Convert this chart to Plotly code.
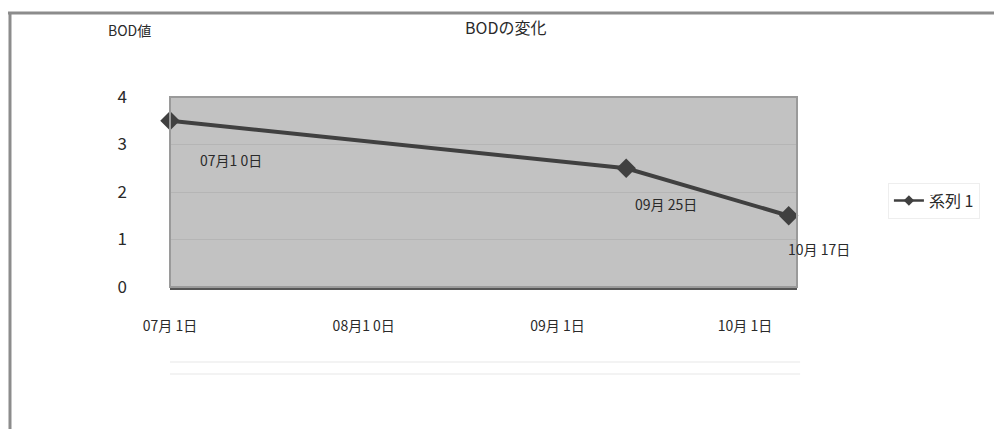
import plotly.graph_objects as go

# BOD measurements over the season
dates = ["2023-07-01", "2023-09-12", "2023-10-08"]
bod_values = [3.5, 2.5, 1.5]
point_labels = ["07月1 0日", "09月 25日", "10月 17日"]
label_shift_x = [61, 40, 30]
label_shift_y = [-39, -36, -33]

tick_dates = ["2023-07-01", "2023-08-01", "2023-09-01", "2023-10-01"]
tick_text = ["07月 1日", "08月1 0日", "09月 1日", "10月 1日"]
y_ticks = [0, 1, 2, 3, 4]

FONT = "Noto Sans CJK JP, Noto Sans, sans-serif"
TEXT_COLOR = "#2a2a2a"
LINE_COLOR = "#404040"

fig = go.Figure()
fig.add_trace(go.Scatter(
    x=dates, y=bod_values, mode="lines+markers", name="系列 1", showlegend=False,
    line=dict(color=LINE_COLOR, width=4),
    marker=dict(symbol="diamond", size=15, color=LINE_COLOR),
    cliponaxis=False,
))
# legend entry with a slimmer line and smaller diamond
fig.add_trace(go.Scatter(
    x=[None], y=[None], mode="lines+markers", name="系列 1",
    line=dict(color=LINE_COLOR, width=2.5),
    marker=dict(symbol="diamond", size=8, color=LINE_COLOR),
))

for d, v, t, dx, dy in zip(dates, bod_values, point_labels, label_shift_x, label_shift_y):
    fig.add_annotation(x=d, y=v, text=t, showarrow=False, xshift=dx, yshift=dy,
                       font=dict(size=14, color=TEXT_COLOR, family=FONT))

# outer chart frame (top and left edges)
frame = dict(type="line", xref="paper", yref="paper", line=dict(color="#8c8c8c", width=3), layer="above")
fig.add_shape(x0=-0.2584, x1=1.32, y0=1.442, y1=1.442, **frame)
fig.add_shape(x0=-0.2552, x1=-0.2552, y0=1.442, y1=-0.76, **frame)
# plot area border
fig.add_shape(type="rect", xref="paper", yref="paper", x0=0, x1=1, y0=0, y1=1,
              line=dict(color="#9a9a9a", width=2), layer="above")
# faint lines below the axis labels
for yy in [-0.395, -0.458]:
    fig.add_shape(type="line", xref="paper", yref="paper", x0=0, x1=1.005, y0=yy, y1=yy,
                  line=dict(color="#f3f3f3", width=2))

fig.add_annotation(text="BODの変化", xref="paper", yref="paper", x=0.535, y=1.37,
                   xanchor="center", yanchor="middle",
                   showarrow=False, font=dict(size=16, color=TEXT_COLOR, family=FONT))
fig.add_annotation(text="BOD値", xref="paper", yref="paper", x=-0.064, y=1.353,
                   xanchor="center", yanchor="middle",
                   showarrow=False, font=dict(size=14, color=TEXT_COLOR, family=FONT))

fig.update_layout(
    width=994, height=429,
    margin=dict(l=170, r=197, t=97, b=142),
    paper_bgcolor="white",
    plot_bgcolor="#c2c2c2",
    font=dict(family=FONT, color=TEXT_COLOR),
    showlegend=True,
    legend=dict(x=1.145, y=0.455, xanchor="left", yanchor="middle",
                bgcolor="rgba(0,0,0,0)", bordercolor="#eeeeee", borderwidth=1,
                font=dict(size=16, color=TEXT_COLOR, family=FONT)),
    xaxis=dict(type="date", range=["2023-07-01", "2023-10-09 08:00"],
               tickvals=tick_dates, ticktext=tick_text, showgrid=False,
               showline=True, linecolor="#555555", linewidth=3, ticks="",
               ticklabelstandoff=24,
               tickfont=dict(size=14, color=TEXT_COLOR, family=FONT)),
    yaxis=dict(range=[0, 4], tickvals=y_ticks, showgrid=True, gridcolor="#b5b5b5", gridwidth=1,
               zeroline=False, showline=False, ticks="", ticklabelstandoff=42,
               tickfont=dict(size=17, color=TEXT_COLOR, family=FONT)),
)
fig.write_html("out.html")
